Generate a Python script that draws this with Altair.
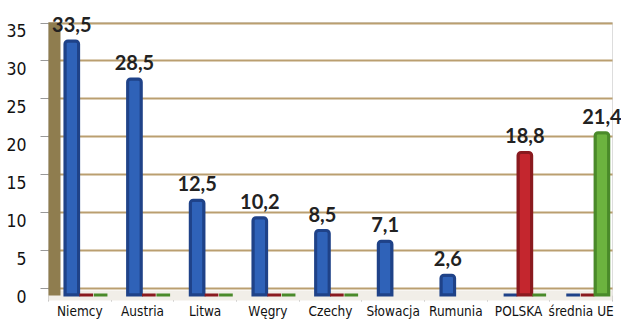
import altair as alt
import pandas as pd

kraje = ["Niemcy", "Austria", "Litwa", "Węgry", "Czechy", "Słowacja", "Rumunia", "POLSKA", "średnia UE"]
seria_niebieska = [33.5, 28.5, 12.5, 10.2, 8.5, 7.1, 2.6, 0, 0]
seria_czerwona = [0, 0, 0, 0, 0, None, None, 18.8, 0]
seria_zielona = [0, 0, 0, 0, 0, None, None, 0, 21.4]
serie = ["A", "B", "C"]
kolory = ["#2f62b8", "#c4262e", "#6cb33f"]
obrysy = ["#1f4288", "#8a1a1f", "#4a8a2a"]

rows = []
for i, k in enumerate(kraje):
    for s, vals in zip(serie, [seria_niebieska, seria_czerwona, seria_zielona]):
        v = vals[i]
        if v is None:
            continue
        rows.append({"kraj": k, "seria": s, "wartosc": v,
                     "etykieta": (f"{v:.1f}".replace(".", ",") if v > 0 else "")})
df = pd.DataFrame(rows)

narrow = "Liberation Sans Narrow, DejaVu Sans Condensed, Arial Narrow, sans-serif"

x = alt.X("kraj:N", sort=kraje, title=None,
          scale=alt.Scale(paddingInner=0, paddingOuter=0),
          axis=alt.Axis(labelAngle=0, labelFont=narrow, labelFontSize=13.5, labelColor="#111",
                        tickBand="extent", tickColor="#bbbbbb", tickSize=6,
                        domainColor="#f1eee8", domainWidth=10, labelPadding=3))
xoff = alt.XOffset("seria:N", sort=serie,
                   scale=alt.Scale(paddingInner=0.05, paddingOuter=0.7, align=0.84))
y = alt.Y("wartosc:Q", title=None,
          scale=alt.Scale(domain=[0, 36], nice=False),
          axis=alt.Axis(values=[0, 5, 10, 15, 20, 25, 30, 35], labelFont=narrow, labelFontSize=17.5,
                        labelColor="#111", tickColor="#999999", tickSize=14, labelPadding=14,
                        tickOffset=-7, labelOffset=9,
                        domainColor="#8f7d4f", domainWidth=12, offset=-6,
                        gridColor="#b39560", gridWidth=2, gridOpacity=0.9))

bars = alt.Chart(df).mark_bar(cornerRadiusTopLeft=3, cornerRadiusTopRight=3, strokeWidth=3).encode(
    x=x, xOffset=xoff, y=y,
    color=alt.Color("seria:N", scale=alt.Scale(domain=serie, range=kolory), legend=None),
    stroke=alt.Stroke("seria:N", scale=alt.Scale(domain=serie, range=obrysy), legend=None),
)

labels = alt.Chart(df).transform_filter("datum.wartosc > 0").mark_text(
    font="Lato", fontWeight="bold", fontSize=20, color="#222", baseline="bottom", dy=-5
).encode(x=x, xOffset=xoff, y=y, text="etykieta:N")

chart = (bars + labels).properties(
    width=564, height=273,
    autosize=alt.AutoSizeParams(type="none"),
    padding={"left": 48, "top": 22, "right": 9, "bottom": 26},
).configure_view(fill="#ebcc8c", stroke=None).configure(background="white")

chart.save("out.html", embed_options={"renderer": "svg", "actions": False})
